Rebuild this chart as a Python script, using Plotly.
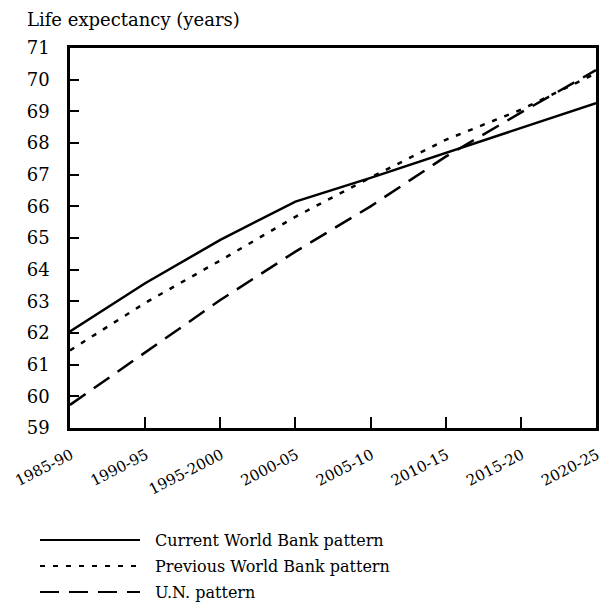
import plotly.graph_objects as go

periods = ["1985-90", "1990-95", "1995-2000", "2000-05", "2005-10", "2010-15", "2015-20", "2020-25"]
current_wb = [62.05, 63.57, 64.94, 66.15, 66.9, 67.68, 68.47, 69.26]
previous_wb = [61.45, 62.95, 64.29, 65.67, 66.91, 68.1, 69.05, 70.2]
un_pattern = [59.73, 61.38, 63.04, 64.57, 66.0, 67.57, 68.96, 70.3]

series_names = ["Current World Bank pattern", "Previous World Bank pattern", "U.N. pattern"]
series_data = [current_wb, previous_wb, un_pattern]
series_dash = ["solid", "5px,8px", "19px,10px"]

FONT = "DejaVu Serif"
x_idx = list(range(len(periods)))

W, H = 604, 603
ML, MR, MT, MB = 70, 8, 48, 175
PW, PH = W - ML - MR, H - MT - MB


def px_x(x):
    return (x - ML) / PW


def px_y(y):
    return (H - MB - y) / PH


fig = go.Figure()
for name, vals, dash in zip(series_names, series_data, series_dash):
    fig.add_trace(go.Scatter(
        x=x_idx, y=vals, mode="lines", name=name,
        line=dict(color="black", width=2.5, dash=dash),
        showlegend=False,
    ))

# manual legend
legend_y = [540, 566, 592]
for name, dash, yy in zip(series_names, series_dash, legend_y):
    fig.add_shape(type="line", xref="paper", yref="paper",
                  x0=px_x(40), x1=px_x(140), y0=px_y(yy), y1=px_y(yy),
                  line=dict(color="black", width=2, dash=dash))
    fig.add_annotation(xref="paper", yref="paper",
                       x=px_x(153), y=px_y(yy),
                       text=name, showarrow=False, xanchor="left", yanchor="middle",
                       font=dict(family=FONT, size=16, color="black"))

fig.add_annotation(xref="paper", yref="paper", x=px_x(25), y=px_y(19),
                   text="Life expectancy (years)", showarrow=False,
                   xanchor="left", yanchor="middle",
                   font=dict(family=FONT, size=18, color="black"))

fig.update_xaxes(
    range=[0, 7], tickmode="array", tickvals=x_idx, ticktext=periods,
    tickangle=-27, ticks="inside", ticklen=11, tickwidth=2, tickcolor="black",
    showline=True, linecolor="black", linewidth=2.5, mirror=True,
    showgrid=False, zeroline=False, ticklabelstandoff=10, ticklabelshift=1,
    ticklabeloverflow="allow", automargin=False,
    tickfont=dict(family=FONT, size=15, color="black"),
)
fig.update_yaxes(
    range=[59, 71], dtick=1, tick0=59,
    ticks="inside", ticklen=9, tickwidth=2, tickcolor="black",
    showline=True, linecolor="black", linewidth=2.5, mirror=True,
    showgrid=False, zeroline=False, ticklabelstandoff=14, automargin=False,
    tickfont=dict(family=FONT, size=18, color="black"),
)
fig.update_layout(
    width=W, height=H,
    margin=dict(l=ML, r=MR, t=MT, b=MB),
    plot_bgcolor="white", paper_bgcolor="white",
    showlegend=False,
)
fig.write_html("out.html", config={"displayModeBar": False},
               post_script="document.body.style.margin='0';document.body.style.overflow='hidden';")
